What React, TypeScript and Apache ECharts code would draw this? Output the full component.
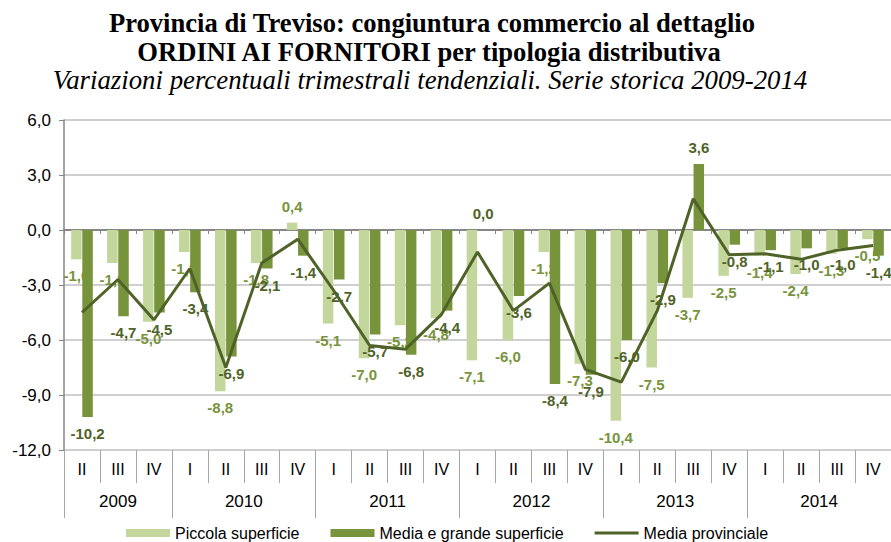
import React, { useEffect, useRef } from 'react';
import * as echarts from 'echarts';

const years = ['2009', '2010', '2011', '2012', '2013', '2014'];
const quartersByYear = [
  ['II', 'III', 'IV'],
  ['I', 'II', 'III', 'IV'],
  ['I', 'II', 'III', 'IV'],
  ['I', 'II', 'III', 'IV'],
  ['I', 'II', 'III', 'IV'],
  ['I', 'II', 'III', 'IV'],
];
const piccola = [-1.6, -1.8, -5.0, -1.2, -8.8, -1.8, 0.4, -5.1, -7.0, -5.2, -4.8, -7.1, -6.0, -1.2, -7.3, -10.4, -7.5, -3.7, -2.5, -1.4, -2.4, -1.3, -0.5];
const mediaGrande = [-10.2, -4.7, -4.5, -3.4, -6.9, -2.1, -1.4, -2.7, -5.7, -6.8, -4.4, 0.0, -3.6, -8.4, -7.9, -6.0, -2.9, 3.6, -0.8, -1.1, -1.0, -1.0, -1.4];
const mediaProvinciale = [-4.5, -2.7, -4.9, -2.1, -7.5, -1.8, -0.5, -3.3, -6.3, -6.5, -4.6, -1.2, -4.4, -2.9, -7.6, -8.3, -4.4, 1.7, -1.35, -1.3, -1.6, -1.1, -0.85];
const seriesNames = ['Piccola superficie', 'Media e grande superficie', 'Media provinciale'];
const titleLines = [
  'Provincia di Treviso: congiuntura commercio al dettaglio',
  'ORDINI AI FORNITORI per tipologia distributiva',
];
const subtitle = 'Variazioni percentuali trimestrali tendenziali. Serie storica 2009-2014';

const categories = quartersByYear.flat();
const yearBounds: number[] = [0];
quartersByYear.forEach((q) => yearBounds.push(yearBounds[yearBounds.length - 1] + q.length));
const yearMids = years.map((_, i) => (yearBounds[i] + yearBounds[i + 1]) / 2);

const fmt = (v: number) => v.toFixed(1).replace('.', ',');
const FONT = '"Liberation Sans", Arial, sans-serif';
const SERIF = '"Liberation Serif", "Times New Roman", serif';

const barData = (arr: number[]) =>
  arr.map((v) => (v === 0 ? { value: v, label: { position: 'top' } } : v));

export default function App() {
  const ref = useRef<HTMLDivElement>(null);
  useEffect(() => {
    const chart = echarts.init(ref.current!, null, { renderer: 'svg' });
    const labelBase = {
      show: true,
      position: 'outside',
      distance: 9,
      fontFamily: FONT,
      fontSize: 15,
      fontWeight: 'bold',
      formatter: (p: any) => fmt(p.value),
    };
    chart.setOption({
      animation: false,
      textStyle: { fontFamily: FONT },
      graphic: [
        {
          type: 'text', x: 432, y: 23,
          style: { text: titleLines[0], font: `bold 26.6px ${SERIF}`, fill: '#000', align: 'center', verticalAlign: 'middle' },
        },
        {
          type: 'text', x: 429, y: 52,
          style: { text: titleLines[1], font: `bold 26.6px ${SERIF}`, fill: '#000', align: 'center', verticalAlign: 'middle' },
        },
        {
          type: 'text', x: 430, y: 80,
          style: { text: subtitle, font: `italic 26.8px ${SERIF}`, fill: '#000', align: 'center', verticalAlign: 'middle' },
        },
      ],
      grid: { left: 64, top: 120, width: 836, height: 330, containLabel: false },
      legend: {
        left: 126,
        top: 525,
        padding: 0,
        itemWidth: 44,
        itemHeight: 8,
        itemGap: 31,
        textStyle: { fontSize: 16, color: '#000', fontFamily: FONT },
        data: [
          { name: seriesNames[0], icon: 'rect' },
          { name: seriesNames[1], icon: 'rect' },
          { name: seriesNames[2], icon: 'path://M0,0 L44,0 L44,3 L0,3 Z' },
        ],
      },
      xAxis: [
        {
          type: 'category',
          data: categories,
          position: 'bottom',
          axisLine: { show: true, onZero: true, lineStyle: { color: '#868686', width: 2 } },
          axisTick: { show: true, length: 4, interval: 0, lineStyle: { color: '#868686', width: 1 } },
          axisLabel: { show: false },
          splitLine: { show: false },
        },
        {
          type: 'category',
          data: categories,
          position: 'bottom',
          axisLine: { show: false, onZero: false },
          axisTick: { show: true, length: 33, interval: 0, lineStyle: { color: '#a6a6a6', width: 1 } },
          axisLabel: { show: true, interval: 0, margin: 11, fontSize: 16, color: '#000', fontFamily: FONT },
          splitLine: { show: false },
        },
        {
          type: 'value',
          min: 0,
          max: categories.length,
          position: 'bottom',
          axisLine: { show: false, onZero: false },
          axisTick: { show: true, length: 68, customValues: yearBounds, lineStyle: { color: '#a6a6a6', width: 1 } },
          axisLabel: {
            show: true,
            margin: 43,
            fontSize: 17,
            color: '#000',
            fontFamily: FONT,
            customValues: yearMids,
            formatter: (v: number) => {
              const i = yearMids.findIndex((m) => Math.abs(m - v) < 1e-6);
              return i >= 0 ? years[i] : '';
            },
          },
          splitLine: { show: false },
        },
      ],
      yAxis: {
        type: 'value',
        min: -12,
        max: 6,
        interval: 3,
        axisLine: { show: true, lineStyle: { color: '#868686', width: 1.5 } },
        axisTick: { show: true, length: 5, lineStyle: { color: '#868686' } },
        axisLabel: { margin: 13, fontSize: 17, color: '#000', fontFamily: FONT, formatter: (v: number) => fmt(v) },
        splitLine: { show: true, lineStyle: { color: '#bfbfbf', width: 1.5 } },
      },
      series: [
        {
          name: seriesNames[0],
          type: 'bar',
          xAxisIndex: 0,
          data: barData(piccola),
          barWidth: 10.5,
          barGap: '6%',
          itemStyle: { color: '#c3d69b' },
          label: { ...labelBase, color: '#77933c' },
          z: 2,
        },
        {
          name: seriesNames[1],
          type: 'bar',
          xAxisIndex: 0,
          data: barData(mediaGrande),
          barWidth: 10.5,
          barGap: '6%',
          itemStyle: { color: '#77933c' },
          label: { ...labelBase, color: '#4f6228' },
          z: 2,
        },
        {
          name: seriesNames[2],
          type: 'line',
          xAxisIndex: 0,
          data: mediaProvinciale,
          symbol: 'none',
          showSymbol: false,
          lineStyle: { color: '#4f6228', width: 3 },
          itemStyle: { color: '#4f6228' },
          z: 3,
        },
      ],
    });
    return () => chart.dispose();
  }, []);
  return (
    <div
      ref={ref}
      style={{ position: 'fixed', left: 0, top: 0, width: 891, height: 542, background: '#fff' }}
    />
  );
}
